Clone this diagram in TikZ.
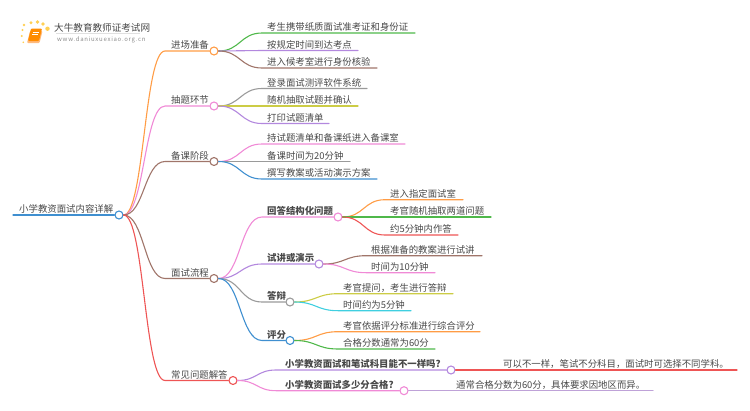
\documentclass[tikz,border=0pt]{standalone}
\usepackage{fontspec}
\setmainfont{Noto Sans CJK SC}
\usetikzlibrary{calc}
\definecolor{cOrange}{HTML}{FF9C45}
\definecolor{cGreen}{HTML}{4FB84A}
\definecolor{cPurple}{HTML}{B388DE}
\definecolor{cBrown}{HTML}{A0756A}
\definecolor{cGray}{HTML}{9A9A9A}
\definecolor{cYellow}{HTML}{CCCC45}
\definecolor{cPink}{HTML}{F08AD6}
\definecolor{cBlue}{HTML}{3F8FD0}
\definecolor{cRed}{HTML}{EE5555}
\definecolor{cCyan}{HTML}{40CFE0}
\definecolor{cLilac}{HTML}{BFA2D8}
\definecolor{cText}{HTML}{484848}
\tikzset{
  lbl/.style={anchor=base west,inner sep=0pt,text=cText,font=\fontsize{9.4}{10}\selectfont},
  lblb/.style={lbl,font=\fontsize{9.4}{10}\selectfont\bfseries},
  dot/.style={circle,draw=#1,fill=white,line width=1.1pt,minimum size=8pt,inner sep=0pt},
  conn/.style={line width=1.1pt,line cap=round,#1},
}
% name parent colour curveEndX textX y lineEndX text
\newcommand{\leafitem}[8]{%
  \coordinate (#1-a) at (#4,#6);
  \coordinate (#1-b) at (#7,#6);
  \node[lbl] (#1) at (#5,#6-2.4) {#8};
  \draw[conn=#3] (#2.east) .. controls ($(#2.east)!.5!(#1-a|-#2.east)$) and ($(#1-a)!.5!(#2.east|-#1-a)$) .. (#1-a) -- (#1-b);
}
% name parent colour curveEndX textX y dotX text style
\newcommand{\branchitem}[9]{%
  \coordinate (#1-a) at (#4,#6);
  \node[dot=#3] (#1-d) at (#7,#6) {};
  \node[#9] (#1) at (#5,#6-2.4) {#8};
  \draw[conn=#3] (#2.east) .. controls ($(#2.east)!.5!(#1-a|-#2.east)$) and ($(#1-a)!.5!(#2.east|-#1-a)$) .. (#1-a) -- (#1-d.west);
}
\begin{document}
\begin{tikzpicture}[x=1pt,y=-1pt]
\useasboundingbox (0,0) rectangle (750,410);
% logo
\foreach \px/\py/\pr in {24/25/1.4,31/22.7/1.7,37.5/22/1.8,43/24/1.8,47.5/28.7/2.2,22.5/30/1.2,21.7/36/1.1,23.3/42.3/.9}
  \fill[cOrange!60!yellow!80] (\px,\py) circle (\pr);
\fill[rounded corners=1pt,cOrange!70!white] (30,31) -- (42.5,31) -- (39.5,43) -- (27,43) -- cycle;
\fill[rounded corners=1pt,orange!90!yellow] (31,28.5) -- (42,28.5) -- (39,41) -- (28,41) -- cycle;
\draw[white,line width=.6pt] (32.5,32) -- (38.5,32) (32,34.5) -- (38,34.5);
\node[anchor=base west,inner sep=0pt,text=cText,font=\fontsize{9.6}{10}\selectfont] (logot) at (54,31) {大牛教育教师证考试网};
\draw[black!12,line width=.5pt] (56,33.5) -- (140,33.5);
\node[anchor=base west,inner sep=0pt,text=black!45,font=\fontsize{6}{7}\selectfont] (logou) at (57,41) {\addfontfeature{LetterSpace=12}www.daniuxuexiao.org.cn};
% root
\node[dot=cBlue] (root) at (119,215) {};
\coordinate (root-s) at (13,215);
\node[lbl] (roott) at (19,212.6) {小学教资面试内容详解};
\draw[conn=cBlue] (root-s) -- (root.west);
% level 1
\branchitem{b1}{root}{cOrange}{165}{171}{51}{214}{进场准备}{lbl}
\branchitem{b2}{root}{cPink}{165}{171}{106}{214}{抽题环节}{lbl}
\branchitem{b3}{root}{cBrown}{165}{171}{161.5}{214}{备课阶段}{lbl}
\branchitem{b4}{root}{cBrown}{165}{171}{278.5}{214}{面试流程}{lbl}
\branchitem{b5}{root}{cRed}{165}{171}{380.5}{233}{常见问题解答}{lbl}
% b1 leaves
\leafitem{l11}{b1-d}{cGreen}{262}{267}{33}{415}{考生携带纸质面试准考证和身份证}
\leafitem{l12}{b1-d}{cPurple}{262}{267}{50.5}{358}{按规定时间到达考点}
\leafitem{l13}{b1-d}{cBrown}{262}{267}{68}{377}{进入候考室进行身份核验}
% b2 leaves
\leafitem{l21}{b2-d}{cGray}{262}{267}{88.5}{367}{登录面试测评软件系统}
\leafitem{l22}{b2-d}{cYellow}{262}{267}{106}{358}{随机抽取试题并确认}
\leafitem{l23}{b2-d}{cPurple}{262}{267}{123.5}{329}{打印试题清单}
% b3 leaves
\leafitem{l31}{b3-d}{cPink}{262}{267}{144}{405}{持试题清单和备课纸进入备课室}
\leafitem{l32}{b3-d}{cGray}{262}{267}{161.5}{350}{备课时间为20分钟}
\leafitem{l33}{b3-d}{cBlue}{262}{267}{179}{377}{撰写教案或活动演示方案}
% b4 sub-branches
\branchitem{s1}{b4-d}{cPink}{262}{267}{217}{338}{回答结构化问题}{lblb}
\branchitem{s2}{b4-d}{cPurple}{262}{267}{264}{319}{试讲或演示}{lblb}
\branchitem{s3}{b4-d}{cGray}{262}{267}{302}{290}{答辩}{lblb}
\branchitem{s4}{b4-d}{cBlue}{262}{267}{340.5}{290}{评分}{lblb}
\leafitem{l41}{s1-d}{cOrange}{385}{390}{199.7}{463}{进入指定面试室}
\leafitem{l42}{s1-d}{cGreen}{385}{390}{217}{491}{考官随机抽取两道问题}
\leafitem{l43}{s1-d}{cRed}{385}{390}{235}{458}{约5分钟内作答}
\leafitem{l44}{s2-d}{cBrown}{366}{371}{255.7}{482}{根据准备的教案进行试讲}
\leafitem{l45}{s2-d}{cPink}{366}{371}{272.7}{435}{时间为10分钟}
\leafitem{l46}{s3-d}{cYellow}{338}{343}{293.7}{453}{考官提问，考生进行答辩}
\leafitem{l47}{s3-d}{cCyan}{338}{343}{310.7}{411}{时间约为5分钟}
\leafitem{l48}{s4-d}{cOrange}{338}{343}{331.7}{480}{考官依据评分标准进行综合评分}
\leafitem{l49}{s4-d}{cGreen}{338}{343}{349}{435}{合格分数通常为60分}
% b5 sub-branches
\branchitem{q1}{b5-d}{cPurple}{276}{285}{370}{451}{小学教资面试和笔试科目能不一样吗?}{lblb}
\branchitem{q2}{b5-d}{cPink}{276}{285}{390.7}{404}{小学教资面试多少分合格?}{lblb}
\leafitem{l51}{q1-d}{cRed}{500}{503}{370}{737}{可以不一样，笔试不分科目，面试时可选择不同学科。}
\leafitem{l52}{q2-d}{cLilac}{452}{456}{390.7}{653}{通常合格分数为60分，具体要求因地区而异。}
\end{tikzpicture}
\end{document}
